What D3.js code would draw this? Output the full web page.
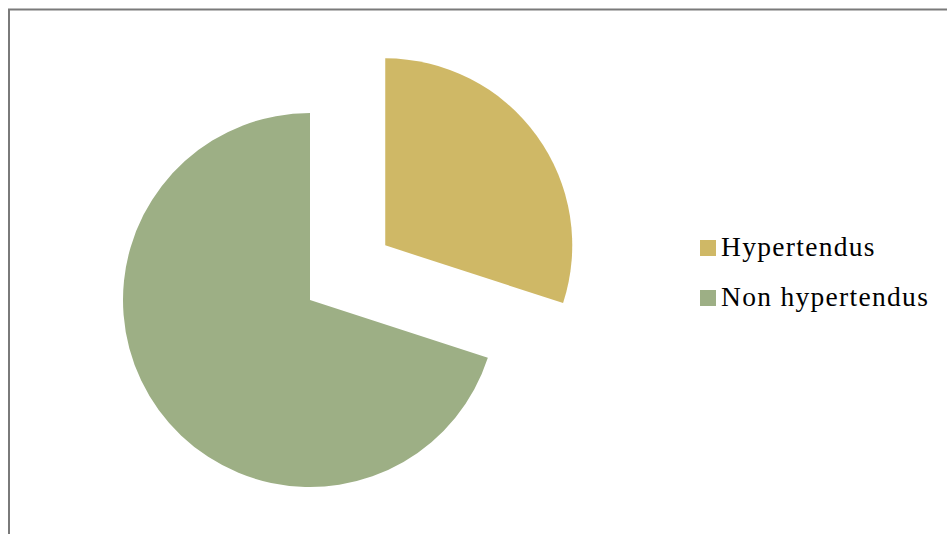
<!DOCTYPE html>
<html>
<head>
<meta charset="utf-8">
<script src="https://cdn.jsdelivr.net/npm/d3@7"></script>
<style>
  html, body { margin: 0; padding: 0; background: #fff; }
  svg { display: block; }
</style>
</head>
<body>
<svg id="chart" width="947" height="534"></svg>
<script>
// Hypertension status breakdown
const categories = ["Hypertendus", "Non hypertendus"];
const values = [30, 70];
const colors = ["#CFB866", "#9DAF85"];
const exploded = [true, false];

const W = 947, H = 534;
const svg = d3.select("#chart");

// Chart frame (left and top edges visible)
svg.append("path")
  .attr("d", `M9,${H} L9,9.5 L${W},9.5`)
  .attr("fill", "none")
  .attr("stroke", "#7a7a7a")
  .attr("stroke-width", 2);

const cx = 310, cy = 300, radius = 187, explode = 93;

const pie = d3.pie().sort(null).value(d => d)(values);
const arc = d3.arc().innerRadius(0).outerRadius(radius);

const g = svg.append("g").attr("transform", `translate(${cx},${cy})`);
g.selectAll("path.slice")
  .data(pie)
  .join("path")
  .attr("class", "slice")
  .attr("d", arc)
  .attr("fill", (d, i) => colors[i])
  .attr("transform", (d, i) => {
    if (!exploded[i]) return null;
    const mid = (d.startAngle + d.endAngle) / 2;
    return `translate(${explode * Math.sin(mid)},${-explode * Math.cos(mid)})`;
  });

// Legend
const legend = svg.append("g").attr("transform", "translate(700,240)");
const item = legend.selectAll("g")
  .data(categories)
  .join("g")
  .attr("transform", (d, i) => `translate(0,${i * 50})`);
item.append("rect")
  .attr("width", 16).attr("height", 16)
  .attr("fill", (d, i) => colors[i]);
item.append("text")
  .attr("x", 21).attr("y", 16)
  .attr("font-family", "'Liberation Serif', 'DejaVu Serif', serif")
  .attr("font-size", 27.5)
  .attr("letter-spacing", 1.3)
  .attr("fill", "#000")
  .text(d => d);
</script>
</body>
</html>
